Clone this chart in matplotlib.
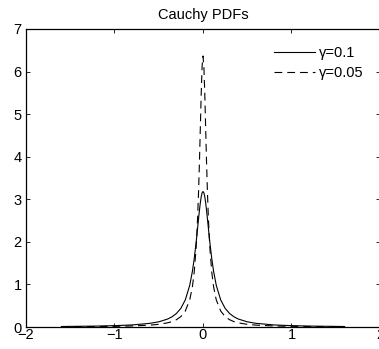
import matplotlib
matplotlib.use("Agg")
import matplotlib.pyplot as plt

plt.rcParams['font.family'] = ['Liberation Sans', 'DejaVu Sans']

# half of each curve (x >= 0)
x_half = [0, 0.01, 0.02, 0.03, 0.04, 0.05, 0.06, 0.07, 0.08, 0.1, 0.12, 0.15,
          0.2, 0.25, 0.3, 0.35, 0.4, 0.5, 0.6, 0.8, 1.0, 1.2, 1.6]
pdf_g01 = [3.183, 3.152, 3.061, 2.920, 2.744, 2.546, 2.341, 2.136, 1.941, 1.592,
           1.305, 0.979, 0.637, 0.439, 0.318, 0.240, 0.187, 0.122, 0.086, 0.049,
           0.032, 0.022, 0.012]
pdf_g005 = [6.366, 6.121, 5.488, 4.681, 3.882, 3.183, 2.609, 2.151, 1.788, 1.273,
            0.942, 0.637, 0.375, 0.245, 0.172, 0.127, 0.098, 0.063, 0.044, 0.025,
            0.016, 0.011, 0.006]
labels = ['\u03b3=0.1', '\u03b3=0.05']

# curves are symmetric about 0
x = [-v for v in x_half[:0:-1]] + x_half
y1 = pdf_g01[:0:-1] + pdf_g01
y2 = pdf_g005[:0:-1] + pdf_g005

fig = plt.figure(figsize=(3.79, 3.49), dpi=100)
ax = fig.add_axes([0.0686, 0.063, 0.934, 0.854])

ax.plot(x, y1, 'k-', lw=0.8, label=labels[0])
ax.plot(x, y2, 'k--', lw=0.8, dashes=(7, 4.5), label=labels[1])

ax.set_xlim(-2, 2)
ax.set_ylim(0, 7)
ax.set_xticks([-2, -1, 0, 1, 2])
ax.set_yticks(range(8))
ax.set_xticklabels(['\u22122', '\u22121', '0', '1', '2'])
ax.tick_params(direction='in', top=True, right=True, labelsize=10.5, length=3,
               width=0.6)
ax.tick_params(axis='x', pad=1)
ax.tick_params(axis='y', pad=3)
for s in ax.spines.values():
    s.set_linewidth(0.9)
ax.set_title('Cauchy PDFs', fontsize=10.5, pad=7)
ax.legend(loc='upper right', frameon=False, fontsize=10.5, handlelength=2.8,
          handletextpad=0.25, labelspacing=0.45, borderaxespad=0.75)

fig.savefig('out.png', dpi=100)
